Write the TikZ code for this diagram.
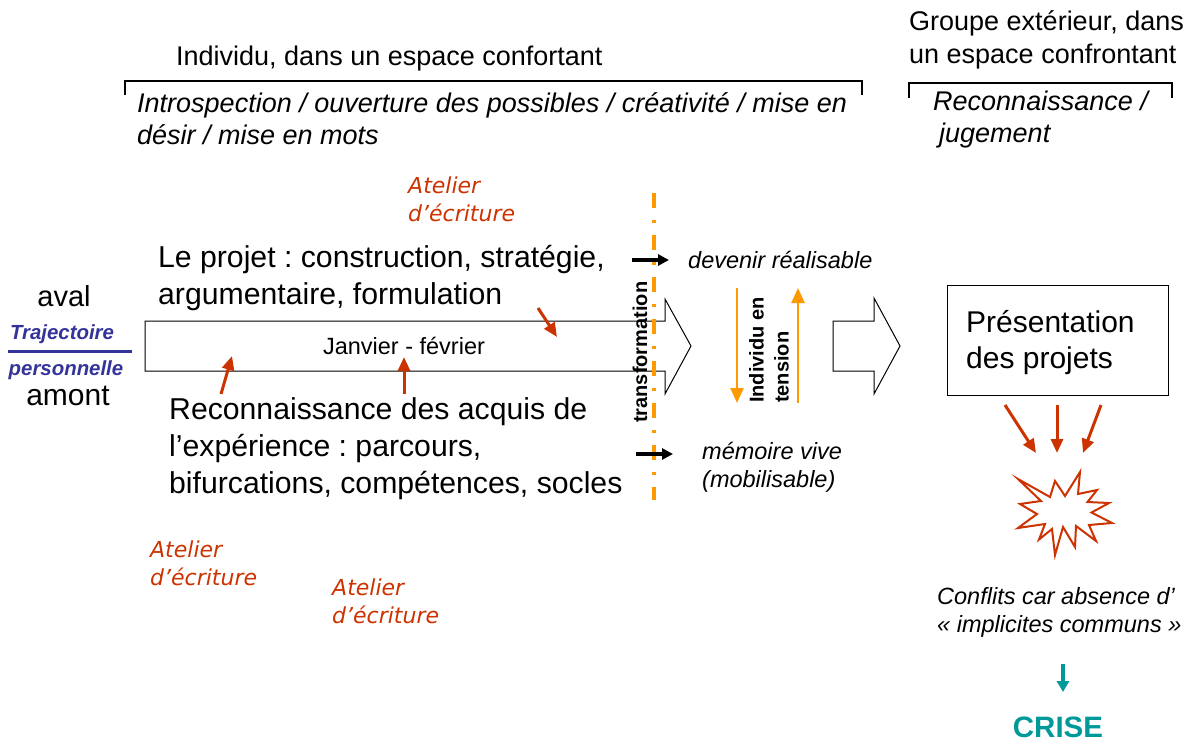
\documentclass[tikz,border=0pt]{standalone}
\usepackage{fontspec}
\setmainfont{Liberation Sans}
\newfontfamily\ateliersf{DejaVu Sans}
\usetikzlibrary{arrows.meta}
\frenchspacing
\definecolor{brique}{RGB}{204,51,0}
\definecolor{orangeclair}{RGB}{255,153,0}
\definecolor{sarcelle}{RGB}{0,153,153}
\definecolor{bleutraj}{RGB}{51,51,153}
\tikzset{
  txt/.style={anchor=west,inner sep=0pt,align=left},
  grand/.style={txt,font=\fontsize{30.2}{37}\selectfont},
  moyen/.style={txt,font=\fontsize{27}{33}\selectfont},
  intro/.style={txt,font=\fontsize{27}{32}\selectfont\itshape},
  note/.style={txt,font=\fontsize{23.5}{28}\selectfont\itshape},
  atelier/.style={txt,text=brique,font=\fontsize{22}{28}\selectfont\ateliersf\itshape},
  traj/.style={inner sep=0pt,text=bleutraj,font=\fontsize{20.4}{20}\selectfont\bfseries\itshape},
  vert/.style={anchor=west,inner sep=0pt,rotate=90,align=left,font=\fontsize{20}{25}\selectfont\bfseries},
  fleche/.style={-{Triangle[length=11pt,width=11pt]},line width=3.5pt},
  rouge/.style={brique,line width=3pt,-{Triangle[length=14pt,width=12pt]}},
  flechetens/.style={orangeclair,line width=2.5pt,-{Triangle[length=15pt,width=13pt]}},
  grosse/.style={draw,line width=1pt,fill=white}
}
\begin{document}
\begin{tikzpicture}[x=1pt,y=-1pt]
\useasboundingbox (0,0) rectangle (1187,742);
% en-tetes
\draw (176,59) node[moyen] (individu) {Individu, dans un espace confortant};
\draw (909,40) node[moyen] (groupe) {Groupe extérieur, dans\\un espace confrontant};
\draw[line width=2pt] (125,95) -- (125,81) -- (862,81) -- (862,95);
\draw[line width=2pt] (909,98) -- (909,83) -- (1172,83) -- (1172,98);
\draw (137,119) node[intro] (intro) {Introspection / ouverture des possibles / créativité / mise en\\désir / mise en mots};
\draw (933,101) node[intro] (recon) {Reconnaissance /};
\draw (939,136) node[intro] (jugement) {jugement};
% les deux grosses fleches
\draw[grosse] (145,321) -- (665,321) -- (665,299) -- (691,346) -- (665,394) -- (665,371) -- (145,371) -- cycle;
\draw[grosse] (833,321) -- (874,321) -- (874,298) -- (900,346) -- (874,394) -- (874,371) -- (833,371) -- cycle;
\draw (404,346) node[inner sep=0pt,font=\fontsize{23.5}{24}\selectfont] (janvier) {Janvier - février};
% axe de gauche
\draw (64,296) node[inner sep=0pt,font=\fontsize{29}{29}\selectfont] (aval) {aval};
\draw (68,396) node[inner sep=0pt,font=\fontsize{30}{30}\selectfont] (amont) {amont};
\draw (62,334) node[traj] (trajectoire) {Trajectoire};
\draw (66,370) node[traj] (personnelle) {personnelle};
\draw[bleutraj,line width=3pt] (8,351) -- (132,351);
% textes
\draw (158,278) node[grand] (projet) {Le projet : construction, stratégie,\\argumentaire, formulation};
\draw (169,449) node[grand] (acquis) {Reconnaissance des acquis de\\l’expérience : parcours,\\bifurcations, compétences, socles};
\draw (408,199) node[atelier] (atelierA) {Atelier\\d’écriture};
\draw (150,563) node[atelier] (atelierB) {Atelier\\d’écriture};
\draw (332,601) node[atelier] (atelierC) {Atelier\\d’écriture};
% fleches rouges
\coordinate (pA) at (538,308);
\coordinate (pB) at (557,337);
\coordinate (rA) at (221,394);
\coordinate (rB) at (232,356);
\coordinate (sA) at (404,394);
\coordinate (sB) at (404,357);
\draw[rouge] (pA) -- (pB);
\draw[rouge] (rA) -- (rB);
\draw[rouge] (sA) -- (sB);
% transformation
\draw[orangeclair,line width=4pt,dash pattern=on 15pt off 12pt on 3pt off 12pt] (654,193) -- (654,500);
\draw (640,423) node[vert] (transfo) {transformation};
\draw (688,260) node[note] (devenir) {devenir réalisable};
\draw (702,467) node[note] (memoire) {mémoire vive\\(mobilisable)};
\coordinate (dA) at (632,260);
\coordinate (dB) at (669,260);
\coordinate (mA) at (636,454);
\coordinate (mB) at (673,454);
\draw[fleche] (dA) -- (dB);
\draw[fleche] (mA) -- (mB);
% tension
\draw[flechetens] (737,288) -- (737,403);
\draw[flechetens] (798,403) -- (798,288);
\draw (769,403) node[vert] (individuen) {Individu en\\tension};
% presentation
\draw (947,285) node[draw,line width=1pt,anchor=north west,minimum width=221pt,minimum height=110pt] (presentation) {};
\draw (966,343) node[grand,font=\fontsize{30}{36}\selectfont] (presentationtxt) {Présentation\\des projets};
\coordinate (cA) at (1005,405);
\coordinate (cB) at (1036,453);
\coordinate (cC) at (1057,405);
\coordinate (cD) at (1057,453);
\coordinate (cE) at (1101,405);
\coordinate (cF) at (1083,453);
\draw[rouge] (cA) -- (cB);
\draw[rouge] (cC) -- (cD);
\draw[rouge] (cE) -- (cF);
\draw[brique,line width=2pt,line join=miter,miter limit=10] (1018,479) -- (1050,497) -- (1055,481) -- (1065,496) -- (1080,472) -- (1078,494) -- (1097,490) -- (1087.5,502) -- (1109,503) -- (1091.5,512.5) -- (1112,523) -- (1089,525) -- (1096,541) -- (1076,526) -- (1075,547) -- (1063,527) -- (1055,555) -- (1052,529) -- (1039,539.5) -- (1045,524) -- (1018,528) -- (1037,514) -- (1020,504) -- (1041,501) -- cycle;
\draw (937,612) node[note] (conflits) {Conflits car absence d’\\« implicites communs »};
\coordinate (fA) at (1063,664);
\coordinate (fB) at (1063,692);
\draw[sarcelle,line width=3.5pt,-{Triangle[length=11pt,width=12pt]}] (fA) -- (fB);
\draw (1058,727) node[inner sep=0pt,text=sarcelle,font=\fontsize{29.5}{30}\selectfont\bfseries] (crise) {CRISE};
\end{tikzpicture}
\end{document}
